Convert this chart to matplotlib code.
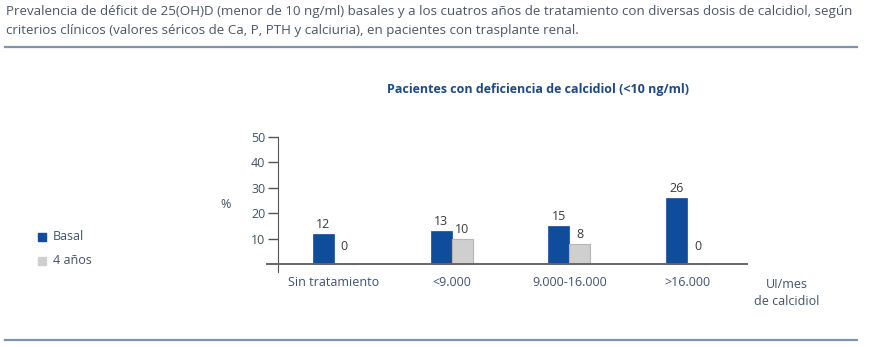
import numpy as np
import matplotlib
matplotlib.use("Agg")
import matplotlib.pyplot as plt
from matplotlib.patches import Rectangle

plt.rcParams['font.family'] = ['Open Sans', 'DejaVu Sans']

# data
categories = ["Sin tratamiento", "<9.000", "9.000-16.000", ">16.000"]
basal = [12, 13, 15, 26]
cuatro_anos = [0, 10, 8, 0]
series_names = ["Basal", "4 años"]
yticks = [10, 20, 30, 40, 50]

title = ("Prevalencia de déficit de 25(OH)D (menor de 10 ng/ml) basales y a los cuatros años de "
         "tratamiento con diversas dosis de calcidiol, según\n"
         "criterios clínicos (valores séricos de Ca, P, PTH y calciuria), en pacientes con trasplante renal.")
subtitle = "Pacientes con deficiencia de calcidiol (<10 ng/ml)"

BLUE = "#0f4c9c"
GRAY = "#cfcfcf"
TEXT = "#3f5368"
DARK = "#3a3a3a"

W, H = 874, 347
fig = plt.figure(figsize=(W / 100, H / 100), dpi=100)

def fx(px):
    return px / W

def fy(py):
    return 1 - py / H

# header text and rules
fig.text(fx(6), fy(5), title, ha='left', va='top', fontsize=9.6, color="#4a5766", linespacing=1.6)
fig.add_artist(plt.Line2D([fx(5), fx(857)], [fy(47), fy(47)], color="#7e93ad", lw=1.6))
fig.add_artist(plt.Line2D([fx(5), fx(857)], [fy(340), fy(340)], color="#7e93ad", lw=1.6))
fig.text(fx(538), fy(90), subtitle, ha='center', va='center', fontsize=9, fontweight='bold', color="#1d4a86")

# axes
ax = fig.add_axes([fx(278), fy(272), fx(747 - 278), fy(137) - fy(272)])
x = np.arange(len(categories))
bw = 0.178
ax.bar(x - bw / 2, basal, bw, color=BLUE, edgecolor=BLUE, linewidth=0.5)
ax.bar(x + bw / 2, cuatro_anos, bw, color=GRAY, edgecolor="#b5b5b5", linewidth=0.8)
for xi, v in zip(x, basal):
    ax.annotate(str(v), (xi - bw / 2, v), xytext=(0, 2), textcoords='offset points',
                ha='center', va='bottom', fontsize=9, color=DARK)
for xi, v in zip(x, cuatro_anos):
    ax.annotate(str(v), (xi + bw / 2, v), xytext=(0, 2 if v else 8), textcoords='offset points',
                ha='center', va='bottom', fontsize=9, color=DARK)

ax.set_xlim(-0.475, 3.508)
ax.set_ylim(-3.15, 50)
ax.set_yticks(yticks)
ax.set_yticklabels([str(t) for t in yticks], fontsize=9, color=TEXT)
ax.tick_params(axis='y', length=7, width=1, color="#555555", pad=2)
ax.set_xticks([])
for s in ['top', 'right', 'bottom']:
    ax.spines[s].set_visible(False)
ax.spines['left'].set_color("#555555")
ax.patch.set_alpha(0)
ax.plot([-0.57, 3.508], [0, 0], color="#666666", lw=1.4, clip_on=False, zorder=3)

# category labels under the baseline
for xi, c in zip(x, categories):
    ax.annotate(c, (xi, 0), xytext=(0, -13), textcoords='offset points',
                ha='center', va='center', fontsize=9, color=TEXT)

fig.text(fx(787), fy(293), "UI/mes\nde calcidiol", ha='center', va='center', fontsize=9, color=TEXT,
         linespacing=1.35)
fig.text(fx(226), fy(204), "%", ha='center', va='center', fontsize=9, color=TEXT)

# legend
for py, name, col in [(237, series_names[0], BLUE), (261, series_names[1], GRAY)]:
    fig.add_artist(Rectangle((fx(38), fy(py + 4)), fx(8), fy(py - 4) - fy(py + 4), color=col))
    fig.text(fx(53), fy(py), name, ha='left', va='center', fontsize=9, color=TEXT)

fig.savefig("out.png", dpi=100)
